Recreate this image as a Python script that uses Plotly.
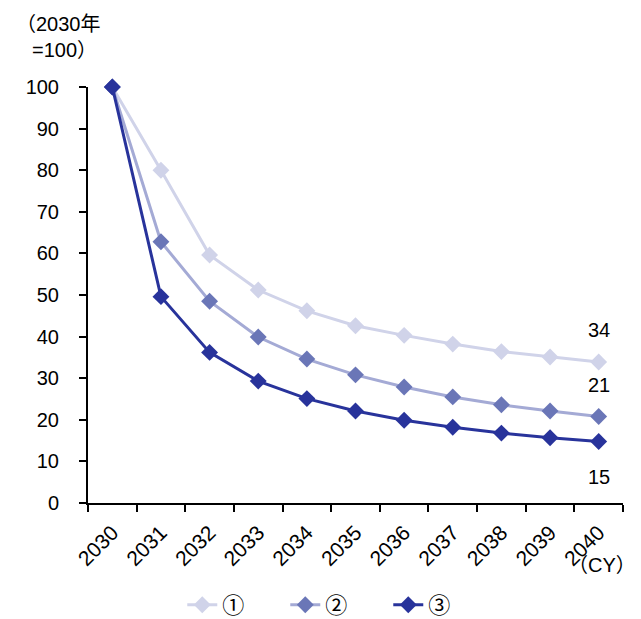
import plotly.graph_objects as go

years = list(range(2030, 2041))
year_labels = [str(y) for y in years]
s1 = [100, 80.0, 59.6, 51.2, 46.2, 42.6, 40.3, 38.2, 36.4, 35.1, 33.9]
s2 = [100, 62.8, 48.5, 39.9, 34.6, 30.8, 27.9, 25.5, 23.6, 22.1, 20.8]
s3 = [100, 49.6, 36.2, 29.3, 25.1, 22.1, 19.9, 18.2, 16.8, 15.7, 14.8]
names = ["①", "②", "③"]
end_labels = ["34", "21", "15"]

FONT = "Arial, Liberation Sans, Noto Sans CJK JP, sans-serif"

fig = go.Figure()
styles = [
    dict(line="#d0d3e9", marker="#d0d3e9"),
    dict(line="#a4aad5", marker="#6a76b7"),
    dict(line="#28339b", marker="#28339b"),
]
for vals, nm, st in zip([s1, s2, s3], names, styles):
    fig.add_trace(go.Scatter(
        x=years, y=vals, name=nm, mode="lines+markers",
        line=dict(color=st["line"], width=3),
        marker=dict(symbol="diamond", size=13, color=st["marker"]),
        cliponaxis=False,
    ))

shifts = [32, 31, -36]
for vals, lab, sh in zip([s1, s2, s3], end_labels, shifts):
    fig.add_annotation(x=years[-1], y=vals[-1], text=lab, showarrow=False,
                       yshift=sh, font=dict(size=20, color="black"))

fig.add_annotation(xref="paper", yref="paper", x=-0.138, y=1.151, xanchor="left", yanchor="middle",
                   text="（2030年", showarrow=False, font=dict(size=20, color="black"))
fig.add_annotation(xref="paper", yref="paper", x=-0.108, y=1.089, xanchor="left", yanchor="middle",
                   text="=100）", showarrow=False, font=dict(size=20, color="black"))
fig.add_annotation(xref="paper", yref="paper", x=1.028, y=-0.149, xanchor="right", yanchor="middle",
                   text="（CY）", showarrow=False, font=dict(size=20, color="black"))

boundaries = [y - 0.5 for y in years] + [years[-1] + 0.5]

fig.update_layout(
    width=641, height=619,
    margin=dict(l=80, r=26, t=79, b=124, autoexpand=False),
    plot_bgcolor="white", paper_bgcolor="white",
    font=dict(family=FONT, size=20, color="black"),
    showlegend=True,
    legend=dict(orientation="h", x=0.465, xanchor="center", y=-0.245, yanchor="middle",
                font=dict(size=22, family="Noto Sans CJK JP, sans-serif"),
                entrywidth=58, entrywidthmode="pixels", tracegroupgap=0),
    xaxis=dict(range=[boundaries[0], boundaries[-1]], tickvals=years, ticktext=year_labels,
               showline=True, linecolor="black", linewidth=2, ticks="",
               tickangle=-45, showgrid=False, zeroline=False, automargin=False,
               ticklabelstandoff=7, tickfont=dict(size=21),
               minor=dict(tickvals=boundaries, ticks="outside", ticklen=7,
                          tickcolor="black", tickwidth=2, showgrid=False)),
    yaxis=dict(range=[0, 100], dtick=10, showline=True, linecolor="black", linewidth=2,
               ticks="outside", ticklen=7, tickcolor="black", tickwidth=2,
               ticklabelstandoff=16, automargin=False,
               showgrid=False, zeroline=False, tickfont=dict(size=20)),
)

fig.write_html("out.html")
